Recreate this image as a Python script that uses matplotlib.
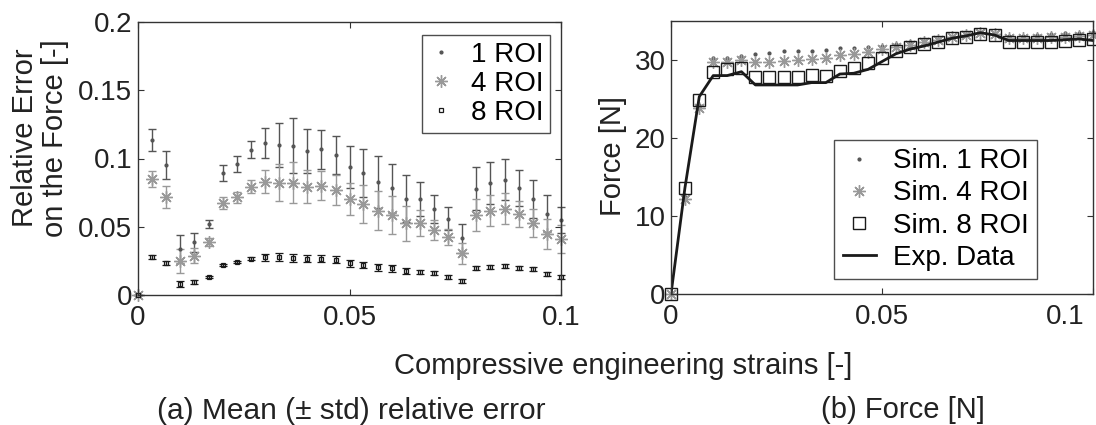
"""Relative error of simulated force (a) and force-strain curves (b) for 1/4/8 ROI."""

import matplotlib

matplotlib.use("Agg")
import matplotlib.pyplot as plt
from matplotlib.transforms import ScaledTranslation

plt.rcParams["font.family"] = ["Liberation Sans", "DejaVu Sans"]

strain = [0.0, 0.0033, 0.0067, 0.0100, 0.0133, 0.0167, 0.0200, 0.0233, 0.0267, 0.0300,
          0.0333, 0.0367, 0.0400, 0.0433, 0.0467, 0.0500, 0.0533, 0.0567, 0.0600, 0.0633,
          0.0667, 0.0700, 0.0733, 0.0767, 0.0800, 0.0833, 0.0867, 0.0900, 0.0933, 0.0967, 0.1000]

# (a) mean relative error and std
err1_mean = [0, 0.1136, 0.0955, 0.0335, 0.0386, 0.052, 0.0894, 0.096, 0.1065, 0.1111,
             0.1099, 0.1094, 0.1057, 0.1067, 0.1028, 0.0938, 0.0891, 0.0826, 0.0782, 0.0706,
             0.0703, 0.063, 0.0559, 0.0415, 0.0779, 0.082, 0.0845, 0.0786, 0.0703, 0.0596, 0.0549]
err1_std = [0, 0.0083, 0.0103, 0.0102, 0.007, 0.0027, 0.0059, 0.0056, 0.006, 0.011,
            0.016, 0.02, 0.016, 0.0145, 0.014, 0.0156, 0.0175, 0.019, 0.018, 0.017,
            0.0125, 0.01, 0.0083, 0.0104, 0.0157, 0.0155, 0.0149, 0.0132, 0.0137, 0.0133, 0.0095]
err4_mean = [0, 0.085, 0.0716, 0.0249, 0.0288, 0.039, 0.0672, 0.0716, 0.0793, 0.083,
             0.0823, 0.0823, 0.0793, 0.0799, 0.0769, 0.0701, 0.0667, 0.0618, 0.0586, 0.0525,
             0.053, 0.0476, 0.0423, 0.0305, 0.0586, 0.0618, 0.0632, 0.0593, 0.053, 0.0447, 0.041]
err4_std = [0, 0.006, 0.008, 0.009, 0.0053, 0.003, 0.0043, 0.004, 0.0046, 0.0083,
            0.0134, 0.015, 0.012, 0.0106, 0.011, 0.0116, 0.0137, 0.0143, 0.0137, 0.0126,
            0.0096, 0.0074, 0.006, 0.0076, 0.0114, 0.0115, 0.0112, 0.0098, 0.0102, 0.011, 0.01]
err8_mean = [0, 0.0281, 0.0237, 0.0081, 0.0098, 0.013, 0.022, 0.024, 0.0266, 0.0276,
             0.0276, 0.0273, 0.0266, 0.0266, 0.0259, 0.0232, 0.022, 0.0203, 0.0195, 0.0176,
             0.0171, 0.0159, 0.0134, 0.0103, 0.0195, 0.0208, 0.0212, 0.02, 0.0188, 0.0154, 0.0134]
err8_std = [0, 0.0015, 0.0015, 0.002, 0.0015, 0.0008, 0.0008, 0.0008, 0.001, 0.0025,
            0.003, 0.003, 0.0025, 0.0025, 0.0025, 0.0025, 0.0025, 0.0025, 0.0025, 0.0025,
            0.0015, 0.0015, 0.0015, 0.0015, 0.0015, 0.0015, 0.0015, 0.0015, 0.0015, 0.0015, 0.0015]

# (b) force [N]
force_exp = [0, 13.6, 25.3, 28.0, 28.0, 28.5, 26.8, 26.8, 26.8, 26.8, 27.1, 27.1, 28.2, 28.3,
             28.8, 29.8, 30.8, 31.4, 31.8, 32.3, 32.8, 33.1, 33.5, 33.2, 32.5, 32.5, 32.5,
             32.5, 32.6, 32.7, 32.5]
force_sim8 = [0, 13.6, 24.9, 28.5, 28.8, 29.0, 27.8, 27.8, 27.8, 27.8, 28.1, 28.0, 28.6, 29.0,
              29.6, 30.3, 31.1, 31.7, 32.1, 32.3, 32.8, 33.0, 33.3, 33.2, 32.3, 32.3, 32.3,
              32.3, 32.5, 32.6, 32.7]
force_sim4 = [0, 12.2, 23.9, 29.7, 29.8, 30.0, 29.7, 29.8, 29.9, 30.0, 30.1, 30.2, 30.6, 30.8,
              31.0, 31.4, 31.7, 31.9, 32.3, 32.6, 32.9, 33.2, 33.5, 33.3, 32.8, 32.8, 32.8,
              32.9, 33.0, 33.1, 33.2]
force_sim1 = [0, 12.5, 24.2, 30.2, 30.3, 30.5, 30.8, 30.9, 31.1, 31.1, 31.2, 31.3, 31.5, 31.6,
              31.7, 31.8, 32.1, 32.3, 32.5, 32.7, 33.0, 33.3, 33.6, 33.5, 33.1, 33.1, 33.2,
              33.3, 33.4, 33.5, 33.6]

x_ticks = [0, 0.05, 0.1]
x_ticklabels = ["0", "0.05", "0.1"]
err_ticks = [0, 0.05, 0.1, 0.15, 0.2]
err_ticklabels = ["0", "0.05", "0.1", "0.15", "0.2"]
force_ticks = [0, 10, 20, 30]

DARK = "#555555"
LIGHT = "#999999"
BLACK = "#1a1a1a"
TICK_FS = 20
LABEL_FS = 21
ASTERISK = (8, 2, 0)


def _style_axes(ax):
    for sp in ax.spines.values():
        sp.set_color("#333333")
        sp.set_linewidth(1.0)
    ax.tick_params(direction="in", length=4, width=0.8, colors="#333333",
                   labelcolor="#222222", labelsize=TICK_FS, top=True, right=True)
    ax.tick_params(axis="x", pad=7)
    ax.tick_params(axis="y", pad=4)


def _frame(leg):
    leg.get_frame().set_edgecolor("#222222")
    leg.get_frame().set_linewidth(1.0)


def plot_error(ax):
    kw = dict(capsize=3.2, elinewidth=1.0, capthick=1.0, linestyle="none", clip_on=False)
    ax.errorbar(strain, err1_mean, yerr=err1_std, fmt=".", color=DARK, ecolor=DARK,
                markersize=4, label="1 ROI", **kw)
    ax.errorbar(strain, err4_mean, yerr=err4_std, marker=ASTERISK, color=LIGHT, ecolor=LIGHT,
                markersize=9, markeredgewidth=1.0, label="4 ROI", **kw)
    ax.errorbar(strain, err8_mean, yerr=err8_std, fmt="s", color=BLACK, ecolor=BLACK,
                markersize=3.5, markerfacecolor="none", markeredgewidth=0.9, label="8 ROI", **kw)
    ax.set_xlim(0, 0.1)
    ax.set_ylim(0, 0.2)
    ax.set_xticks(x_ticks, x_ticklabels)
    ax.set_yticks(err_ticks, err_ticklabels)
    _style_axes(ax)
    handles, labels = ax.get_legend_handles_labels()
    handles = [h[0] for h in handles]
    leg = ax.legend(handles, labels, loc="upper right", bbox_to_anchor=(0.974, 0.952),
                    fontsize=TICK_FS, frameon=True, fancybox=False, borderaxespad=0,
                    labelspacing=0.1, handlelength=0.9, handletextpad=0.6, borderpad=0.25)
    _frame(leg)


def plot_force(ax):
    ax.plot(strain, force_sim1, ".", color=DARK, markersize=4, label="Sim. 1 ROI", clip_on=False)
    ax.plot(strain, force_sim4, linestyle="none", marker=ASTERISK, color=LIGHT, markersize=9,
            markeredgewidth=1.0, label="Sim. 4 ROI", clip_on=False)
    ax.plot(strain, force_sim8, "s", color=BLACK, markersize=8, markerfacecolor="none",
            markeredgewidth=1.0, label="Sim. 8 ROI", clip_on=False)
    ax.plot(strain, force_exp, "-", color=BLACK, linewidth=2.0, label="Exp. Data")
    ax.set_xlim(0, 0.1)
    ax.set_ylim(0, 35)
    ax.set_xticks(x_ticks, x_ticklabels)
    ax.set_yticks(force_ticks)
    _style_axes(ax)
    last = ax.get_xticklabels()[-1]
    last.set_transform(last.get_transform() + ScaledTranslation(-28 / 100, 0, ax.figure.dpi_scale_trans))
    leg = ax.legend(loc="lower right", bbox_to_anchor=(0.867, 0.055), fontsize=TICK_FS,
                    frameon=True, fancybox=False, borderaxespad=0, labelspacing=0.22,
                    handlelength=1.2, handletextpad=0.6, borderpad=0.3)
    _frame(leg)


def main():
    W, H = 1096, 425
    fig = plt.figure(figsize=(W / 100, H / 100), dpi=100)
    ax1 = fig.add_axes([138 / W, 1 - 295 / H, 423 / W, 273 / H])
    ax2 = fig.add_axes([671 / W, 1 - 294 / H, 422 / W, 273 / H])
    plot_error(ax1)
    plot_force(ax2)

    fig.text(40 / W, 1 - 138 / H, "Relative Error\non the Force [-]", rotation=90,
             ha="center", va="center", fontsize=LABEL_FS, linespacing=1.05, color="#222222")
    fig.text(613 / W, 1 - 156 / H, "Force [N]", rotation=90, ha="center", va="center",
             fontsize=LABEL_FS, color="#222222")
    fig.text(623 / W, 1 - 374 / H, "Compressive engineering strains [-]", ha="center",
             va="baseline", fontsize=LABEL_FS, color="#222222")
    fig.text(351 / W, 1 - 419 / H, "(a) Mean (\u00b1 std) relative error", ha="center",
             va="baseline", fontsize=21.5, color="#222222")
    fig.text(903 / W, 1 - 418 / H, "(b) Force [N]", ha="center", va="baseline",
             fontsize=LABEL_FS, color="#222222")

    fig.savefig("out.png", dpi=100)
    plt.close(fig)


if __name__ == "__main__":
    main()
